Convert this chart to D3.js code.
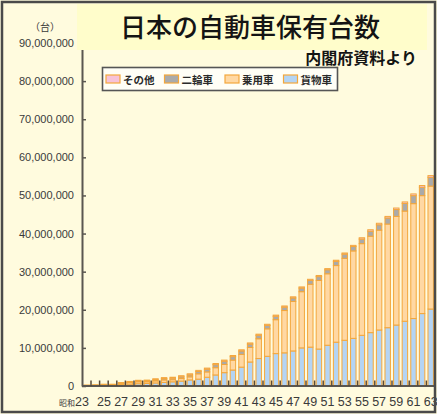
<!DOCTYPE html>
<html><head><meta charset="utf-8">
<script src="https://cdn.jsdelivr.net/npm/d3@7"></script>
<style>html,body{margin:0;padding:0;background:#fff}svg{display:block}</style>
</head><body><svg id="c" width="437" height="414"></svg>
<script>
// ---- data (values in millions of vehicles) ----
const years = [23,24,25,26,27,28,29,30,31,32,33,34,35,36,37,38,39,40,41,42,43,44,45,46,47,48,49,50,51,52,53,54,55,56,57,58,59,60,61,62,63];
const labelYears = [23,25,27,29,31,33,35,37,39,41,43,45,47,49,51,53,55,57,59,61,63];
const yTicks = [0,10,20,30,40,50,60,70,80,90];
const freight   = [0.15,0.18,0.3,0.3,0.4,0.5,0.6,0.65,0.8,0.95,1.1,1.3,1.6,1.8,2.3,2.9,3.5,4.2,4.95,6.3,7.2,7.8,8.5,8.7,9.2,10.0,10.2,9.7,10.7,11.5,12.0,12.5,13.3,14.0,14.7,15.3,16.0,17.0,17.7,19.0,20.2];
const passenger = [0.01,0.02,0.07,0.07,0.3,0.4,0.5,0.45,0.55,0.65,0.55,0.65,0.8,1.4,1.4,1.9,2.15,2.6,3.35,3.8,5.2,7.2,8.9,11.1,13.0,14.75,16.5,18.0,18.75,20.1,21.5,22.95,24.05,25.3,26.2,27.2,28.5,28.9,30.15,30.95,32.25];
const twoWheel  = [0.02,0.03,0.05,0.05,0.1,0.15,0.2,0.25,0.3,0.35,0.4,0.45,0.5,0.6,0.7,0.8,0.85,0.9,0.9,0.9,0.9,0.9,0.9,0.9,0.9,0.95,1.0,1.0,1.05,1.1,1.1,1.15,1.2,1.3,1.4,1.6,1.8,2.0,2.1,2.2,2.3];
const other     = [0.02,0.02,0.03,0.03,0.1,0.15,0.2,0.2,0.25,0.25,0.25,0.3,0.3,0.3,0.3,0.3,0.3,0.3,0.3,0.3,0.3,0.3,0.3,0.3,0.3,0.3,0.3,0.3,0.3,0.3,0.3,0.3,0.35,0.4,0.4,0.4,0.4,0.4,0.45,0.45,0.45];
const seriesKeys  = ["freight","passenger","twoWheel","other"];
const legendNames = ["その他","二輪車","乗用車","貨物車"];
const legendKeys  = ["other","twoWheel","passenger","freight"];
const titleText = "日本の自動車保有台数";
const subText = "内閣府資料より";
const unitText = "（台）";

const colors = {freight:"#B4D4F4", passenger:"#FFD8A3", twoWheel:"#AAAAAA", other:"#F7C2D8"};
const strokeCol = "#F3A73C";

const table = years.map((yr,i)=>({year:yr, freight:freight[i], passenger:passenger[i], twoWheel:twoWheel[i], other:other[i]}));
const stacked = d3.stack().keys(seriesKeys)(table);

const svg = d3.select("#c");
const W = 437, H = 414;
svg.append("rect").attr("width",W).attr("height",H).attr("fill","#FFFBDE");

const x = d3.scaleBand().domain(years).range([82.4, 435]).paddingInner(0.25).paddingOuter(0.125);
const y = d3.scaleLinear().domain([0,90]).range([386,43]);

const plot = svg.append("g");
plot.selectAll("g.s").data(stacked).join("g").attr("class","s")
  .attr("fill", d=>colors[d.key])
  .selectAll("rect").data(d=>d).join("rect")
  .attr("x", d=>x(d.data.year)+0.5)
  .attr("width", x.bandwidth()-1)
  .attr("y", d=>y(d[1]))
  .attr("height", d=>Math.max(0, y(d[0])-y(d[1])))
  .attr("stroke", strokeCol).attr("stroke-width",1);

// y axis
const yAxis = svg.append("g").attr("transform","translate(82,0)")
  .call(d3.axisLeft(y).tickValues(yTicks).tickFormat(d=>d3.format(",")(d*1000000))
        .tickSizeInner(-4).tickSizeOuter(0).tickPadding(8));
yAxis.select(".domain").attr("stroke","#5a5650").attr("stroke-width",2);
yAxis.selectAll(".tick line").attr("stroke","#5a5650").attr("stroke-width",1.5);
yAxis.selectAll(".tick text").attr("fill","#3a3a3a").attr("font-size",11)
  .attr("font-family","'Liberation Sans',Arial,sans-serif");

// x axis
const xAxis = svg.append("g").attr("transform","translate(0,386)")
  .call(d3.axisBottom(x).tickValues(labelYears).tickSize(0).tickPadding(11));
xAxis.select(".domain").remove();
xAxis.selectAll(".tick text").attr("fill","#3a3a3a").attr("font-size",12.5)
  .attr("font-family","'Liberation Sans Narrow','Arial Narrow','Liberation Sans',sans-serif");
xAxis.selectAll(".tick").filter(d=>d===years[0]).select("text")
  .text(null).attr("text-anchor","end").attr("x", x.bandwidth()/2-1)
  .call(t=>{
    t.append("tspan").attr("font-family","'Noto Sans CJK JP',sans-serif").attr("font-size",8).text("昭和");
    t.append("tspan").text(String(years[0]));
  });
svg.append("line").attr("x1",82).attr("x2",436).attr("y1",386).attr("y2",386)
  .attr("stroke","#5a5650").attr("stroke-width",2);
// small ticks between bars
const step = x.step();
svg.append("g").selectAll("line").data(years).join("line")
  .attr("x1", d=>x(d)+x.bandwidth()/2+step/2).attr("x2", d=>x(d)+x.bandwidth()/2+step/2)
  .attr("y1",380.5).attr("y2",386)
  .attr("stroke","#5a4a36").attr("stroke-width",1.5);

// unit label
svg.append("text").attr("x",45).attr("y",31).attr("text-anchor","middle")
  .attr("font-family","'Noto Sans CJK JP',sans-serif").attr("font-size",10).attr("fill","#3a3a3a")
  .text(unitText);

// title box
svg.append("rect").attr("x",77).attr("y",4).attr("width",350).attr("height",46).attr("fill","#FFFDCB");
svg.append("text").attr("x",250).attr("y",37).attr("text-anchor","middle")
  .attr("font-family","'Noto Sans CJK JP',sans-serif").attr("font-weight",500)
  .attr("font-size",26).attr("fill","#141414").text(titleText);
svg.append("text").attr("x",417).attr("y",63.5).attr("text-anchor","end")
  .attr("font-family","'Noto Sans CJK JP',sans-serif").attr("font-weight",700)
  .attr("font-size",16).attr("fill","#141414").text(subText);

// legend
const lg = svg.append("g");
lg.append("rect").attr("x",102.5).attr("y",67.5).attr("width",235).attr("height",23)
  .attr("fill","#FFFEF6").attr("stroke","#555").attr("stroke-width",1.6);
const lx = [106,164.5,225,283.5];
legendKeys.forEach((k,i)=>{
  lg.append("rect").attr("x",lx[i]).attr("y",75).attr("width",14).attr("height",8)
    .attr("fill",colors[k]).attr("stroke",strokeCol).attr("stroke-width",1.2);
  lg.append("text").attr("x",lx[i]+17).attr("y",83.5)
    .attr("font-family","'Noto Sans CJK JP',sans-serif").attr("font-weight",700)
    .attr("font-size",10.5).attr("fill","#2a2a2a").text(legendNames[i]);
});

// outer frame
svg.append("rect").attr("x",2).attr("y",2).attr("width",433).attr("height",410)
  .attr("fill","none").attr("stroke","#4a4a4a").attr("stroke-width",2.5);
</script></body></html>
